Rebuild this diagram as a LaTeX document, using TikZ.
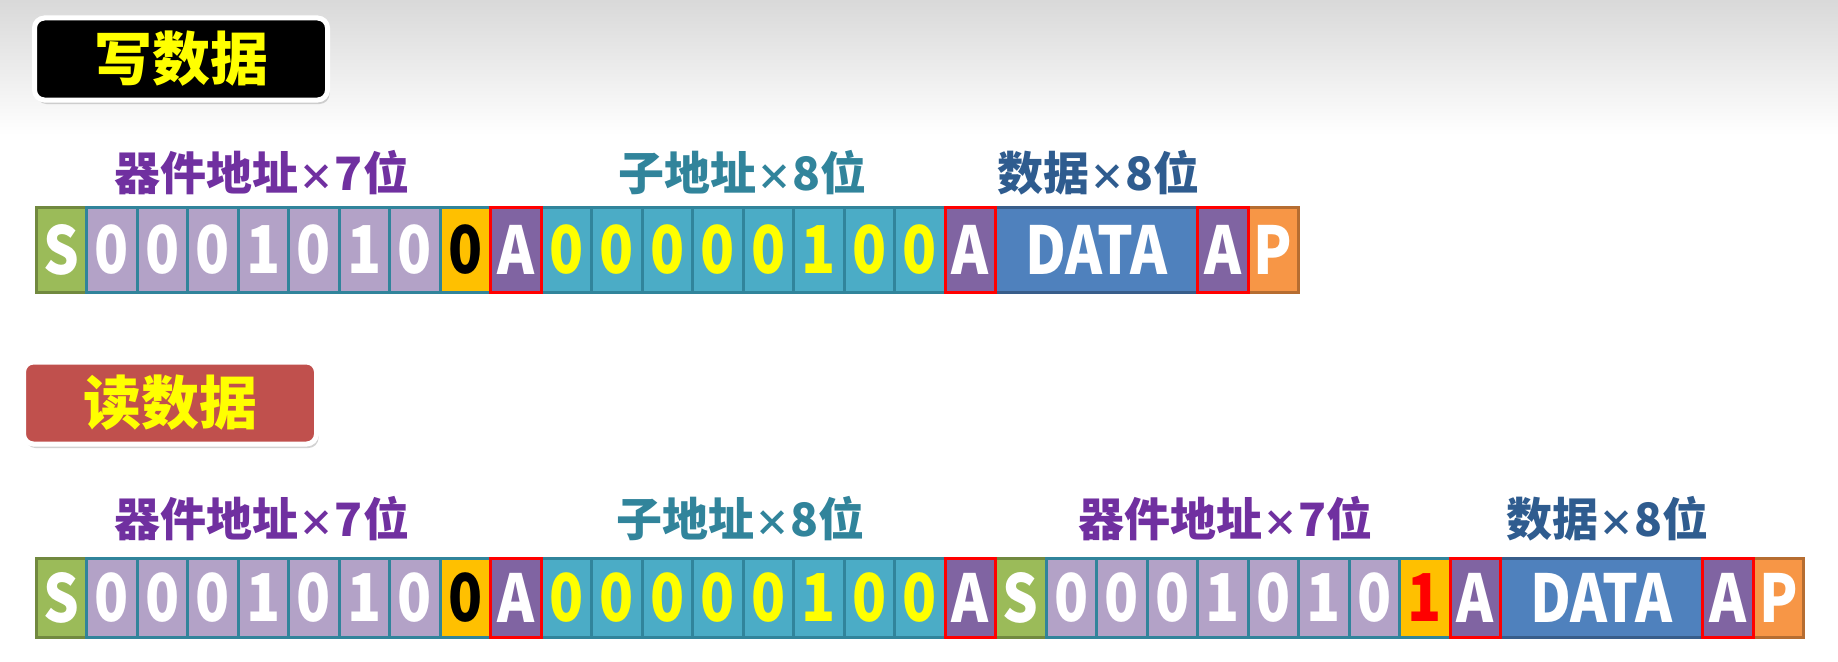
\documentclass[tikz,border=0pt]{standalone}
\usepackage{fontspec}
\newfontfamily\cjk{Noto Sans CJK SC}
\newfontfamily\cjkn{Noto Sans CJK SC}[FakeStretch=0.85]
\usetikzlibrary{shadows}
\definecolor{sgreen}{HTML}{9BBB59}
\definecolor{sgreenD}{HTML}{71893F}
\definecolor{lpurple}{HTML}{B3A2C7}
\definecolor{tealB}{HTML}{31849B}
\definecolor{gold}{HTML}{FFC000}
\definecolor{apurple}{HTML}{8064A2}
\definecolor{cyanB}{HTML}{4BACC6}
\definecolor{dblue}{HTML}{4F81BD}
\definecolor{dblueD}{HTML}{385D8A}
\definecolor{porange}{HTML}{F79646}
\definecolor{porangeD}{HTML}{B66D31}
\definecolor{lblpurple}{HTML}{7030A0}
\definecolor{lblteal}{HTML}{31849B}
\definecolor{lblblue}{HTML}{2F5C8F}
\definecolor{titlered}{HTML}{C0504D}
\definecolor{tyellow}{HTML}{FFFF00}
\tikzset{
  cellbase/.style={minimum width=50.5pt, inner sep=0pt, line width=3pt,
    font=\cjkn\bfseries\fontsize{66}{70}\selectfont},
  sbit/.style={cellbase, fill=sgreen, draw=sgreenD, text=white},
  pbit/.style={cellbase, fill=lpurple, draw=tealB, text=white},
  rwbit/.style={cellbase, fill=gold, draw=tealB},
  ackbit/.style={cellbase, fill=apurple, draw=red, text=white},
  cbit/.style={cellbase, fill=cyanB, draw=tealB, text=tyellow},
  databox/.style={cellbase, minimum width=202pt, fill=dblue, draw=dblueD, text=white},
  stopbit/.style={cellbase, fill=porange, draw=porangeD, text=white},
  titlebox/.style={rounded corners=10pt, draw=white, line width=5pt,
    minimum width=293pt, minimum height=82pt, text=tyellow,
    font=\cjk\bfseries\fontsize{58}{62}\selectfont,
    drop shadow={shadow xshift=2pt, shadow yshift=-4pt, fill=black!35}},
  fieldlabel/.style={font=\cjk\bfseries\fontsize{46}{50}\selectfont, inner sep=0pt},
}
\newcommand\bitnode[6]{\node[#1, minimum height=#5pt] (#2) at ({36+(#3+0.5)*50.5}, #4) {#6};}
\newcommand\tms{{\fontsize{36}{40}\selectfont ×}}
\begin{document}
\begin{tikzpicture}[x=1pt, y=-1pt]
\useasboundingbox (0,0) rectangle (1838,661);
\fill[white] (0,0) rectangle (1838,661);
\shade[top color=black!15, bottom color=white] (0,0) rectangle (1838,135);

% titles
\node[titlebox, fill=black] (t1) at (181,59) {写数据};
\node[titlebox, fill=titlered] (t2) at (170,403) {读数据};

% ---------- row 1 : write ----------
\def\ya{250}\def\ha{85}
\node[fieldlabel, text=lblpurple] (l1a) at (262,173) {器件地址\tms 7位};
\node[fieldlabel, text=lblteal] (l1b) at (742,173) {子地址\tms 8位};
\node[fieldlabel, text=lblblue] (l1c) at (1098,173) {数据\tms 8位};

\bitnode{sbit}{r1s}{0}{\ya}{\ha}{S}
\foreach \b [count=\i] in {0,0,0,1,0,1,0}
  {\bitnode{pbit}{r1p\i}{\i}{\ya}{\ha}{\b}}
\bitnode{rwbit}{r1rw}{8}{\ya}{\ha}{0}
\foreach \b [count=\i from 10] in {0,0,0,0,0,1,0,0}
  {\bitnode{cbit}{r1c\i}{\i}{\ya}{\ha}{\b}}
\node[databox, minimum height=\ha pt] (r1d) at ({36+21*50.5},\ya) {DATA};
\bitnode{stopbit}{r1p}{24}{\ya}{\ha}{P}
\bitnode{ackbit}{r1a1}{9}{\ya}{\ha}{A}
\bitnode{ackbit}{r1a2}{18}{\ya}{\ha}{A}
\bitnode{ackbit}{r1a3}{23}{\ya}{\ha}{A}

% ---------- row 2 : read ----------
\def\yb{597.5}\def\hb{79}
\node[fieldlabel, text=lblpurple] (l2a) at (262,519) {器件地址\tms 7位};
\node[fieldlabel, text=lblteal] (l2b) at (740,519) {子地址\tms 8位};
\node[fieldlabel, text=lblpurple] (l2c) at (1225,519) {器件地址\tms 7位};
\node[fieldlabel, text=lblblue] (l2d) at (1607,519) {数据\tms 8位};

\bitnode{sbit}{r2s}{0}{\yb}{\hb}{S}
\foreach \b [count=\i] in {0,0,0,1,0,1,0}
  {\bitnode{pbit}{r2p\i}{\i}{\yb}{\hb}{\b}}
\bitnode{rwbit}{r2rw}{8}{\yb}{\hb}{0}
\foreach \b [count=\i from 10] in {0,0,0,0,0,1,0,0}
  {\bitnode{cbit}{r2c\i}{\i}{\yb}{\hb}{\b}}
\bitnode{sbit}{r2s2}{19}{\yb}{\hb}{S}
\foreach \b [count=\i from 20] in {0,0,0,1,0,1,0}
  {\bitnode{pbit}{r2q\i}{\i}{\yb}{\hb}{\b}}
\bitnode{rwbit}{r2rw2}{27}{\yb}{\hb}{\textcolor{red}{1}}
\node[databox, minimum height=\hb pt] (r2d) at ({36+31*50.5},\yb) {DATA};
\bitnode{stopbit}{r2p}{34}{\yb}{\hb}{P}
\bitnode{ackbit}{r2a1}{9}{\yb}{\hb}{A}
\bitnode{ackbit}{r2a2}{18}{\yb}{\hb}{A}
\bitnode{ackbit}{r2a3}{28}{\yb}{\hb}{A}
\bitnode{ackbit}{r2a4}{33}{\yb}{\hb}{A}
\end{tikzpicture}
\end{document}
